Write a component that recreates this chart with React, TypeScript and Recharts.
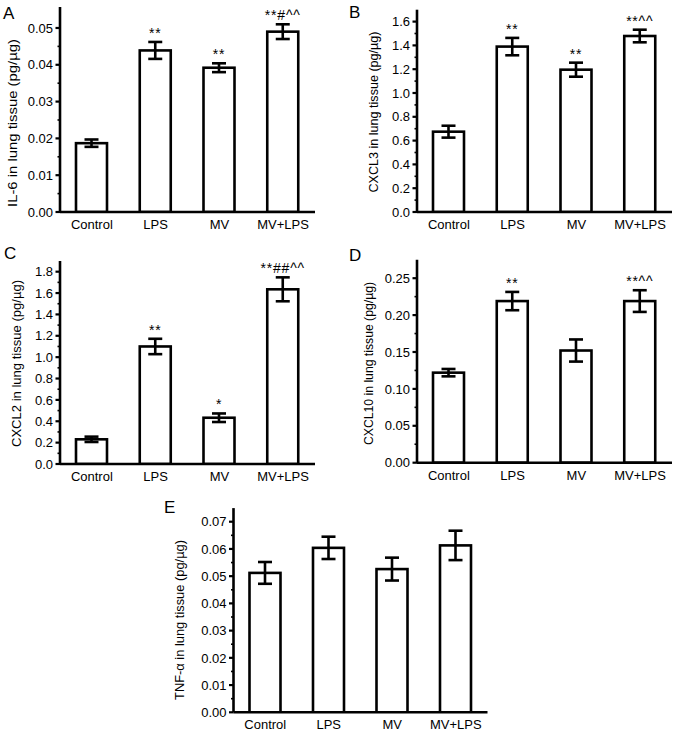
import React from 'react';
import { BarChart, Bar, XAxis, YAxis, ErrorBar } from 'recharts';

const FONT = '"Liberation Sans", Arial, Helvetica, sans-serif';

const categories = ['Control', 'LPS', 'MV', 'MV+LPS'];

const il6Values = [0.0187, 0.0439, 0.0392, 0.049];
const il6Errors = [0.001, 0.0023, 0.0012, 0.002];
const il6Marks = ['', '**', '**', '**#^^'];
const il6Ticks = [0, 0.01, 0.02, 0.03, 0.04, 0.05];

const cxcl3Values = [0.675, 1.39, 1.196, 1.479];
const cxcl3Errors = [0.05, 0.073, 0.059, 0.053];
const cxcl3Marks = ['', '**', '**', '**^^'];
const cxcl3Ticks = [0, 0.2, 0.4, 0.6, 0.8, 1.0, 1.2, 1.4, 1.6];

const cxcl2Values = [0.231, 1.1, 0.433, 1.635];
const cxcl2Errors = [0.025, 0.072, 0.04, 0.112];
const cxcl2Marks = ['', '**', '*', '**##^^'];
const cxcl2Ticks = [0, 0.2, 0.4, 0.6, 0.8, 1.0, 1.2, 1.4, 1.6, 1.8];

const cxcl10Values = [0.122, 0.219, 0.152, 0.219];
const cxcl10Errors = [0.005, 0.0124, 0.015, 0.0147];
const cxcl10Marks = ['', '**', '', '**^^'];
const cxcl10Ticks = [0, 0.05, 0.1, 0.15, 0.2, 0.25];

const tnfValues = [0.0512, 0.0604, 0.0526, 0.0613];
const tnfErrors = [0.004, 0.0041, 0.0042, 0.0054];
const tnfMarks = ['', '', '', ''];
const tnfTicks = [0, 0.01, 0.02, 0.03, 0.04, 0.05, 0.06, 0.07];

type PanelProps = {
  left: number;
  top: number;
  width: number;
  height: number;
  values: number[];
  errors: number[];
  marks: string[];
  ticks: number[];
  decimals: number;
  domainMax: number;
  marginTop: number;
  marginRight: number;
  yAxisWidth: number;
  ylabel: string;
  labelX: number;
  labelY: number;
  labelLen: number;
  letter: string;
  letterX: number;
  letterY: number;
};

function Panel(p: PanelProps) {
  const data = categories.map((c, i) => ({
    name: c,
    value: p.values[i],
    err: p.errors[i],
    mark: p.marks[i],
  }));
  const minors = p.ticks.slice(1).map((t, i) => (t + p.ticks[i]) / 2);
  const allTicks = [...p.ticks, ...minors].sort((a, b) => a - b);
  const isMajor = (v: number) => p.ticks.some((t) => Math.abs(t - v) < 1e-9);

  const YTick = (props: any) => {
    const { x, y, payload } = props;
    const v = Number(payload.value);
    if (isMajor(v)) {
      return (
        <g>
          <line x1={x - 4.5} x2={x} y1={y} y2={y} stroke="#000" strokeWidth={2.2} />
          <text
            x={x - 7}
            y={y}
            dy="0.36em"
            textAnchor="end"
            fontSize={13}
            fontFamily={FONT}
            fill="#000"
          >
            {v.toFixed(p.decimals)}
          </text>
        </g>
      );
    }
    return <line x1={x - 2.5} x2={x} y1={y} y2={y} stroke="#000" strokeWidth={1.6} />;
  };

  const XTick = (props: any) => {
    const { x, y, payload } = props;
    return (
      <text x={x} y={y + 17} textAnchor="middle" fontSize={13} fontFamily={FONT} fill="#000">
        {payload.value}
      </text>
    );
  };

  const BarShape = (props: any) => {
    const { x, y, width, height, payload } = props;
    const errPx = payload.value ? (height * payload.err) / payload.value : 0;
    return (
      <g>
        <rect x={x} y={y} width={width} height={height} fill="#fff" stroke="#000" strokeWidth={2.6} />
        {payload.mark ? (
          <text
            x={x + width / 2}
            y={y - errPx - 4}
            textAnchor="middle"
            fontSize={14}
            letterSpacing={0.8}
            fontFamily={FONT}
            fill="#000"
          >
            {payload.mark}
          </text>
        ) : null}
      </g>
    );
  };

  const LabelContent = () => (
    <g>
      <text
        x={p.labelX}
        y={p.labelY}
        transform={`rotate(-90, ${p.labelX}, ${p.labelY})`}
        textAnchor="middle"
        dominantBaseline="central"
        fontSize={12.5}
        fontFamily={FONT}
        fill="#000"
        textLength={p.labelLen}
        lengthAdjust="spacingAndGlyphs"
      >
        {p.ylabel}
      </text>
      <text x={p.letterX} y={p.letterY} fontSize={17} fontFamily={FONT} fill="#000">
        {p.letter}
      </text>
    </g>
  );

  return (
    <div style={{ position: 'absolute', left: p.left, top: p.top, width: p.width, height: p.height }}>
      <BarChart
        width={p.width}
        height={p.height}
        data={data}
        margin={{ top: p.marginTop, right: p.marginRight, bottom: 0, left: 0 }}
      >
        <XAxis
          dataKey="name"
          height={30}
          tickLine={false}
          tickSize={0}
          tickMargin={0}
          axisLine={{ stroke: '#000', strokeWidth: 2.6 }}
          tick={XTick}
          interval={0}
        />
        <YAxis
          type="number"
          width={p.yAxisWidth}
          domain={[0, p.domainMax]}
          allowDataOverflow
          ticks={allTicks}
          interval={0}
          tickLine={false}
          tickSize={0}
          tickMargin={0}
          axisLine={{ stroke: '#000', strokeWidth: 2.6 }}
          tick={YTick}
          label={{ content: LabelContent }}
        />
        <Bar dataKey="value" barSize={31} isAnimationActive={false} shape={BarShape}>
          <ErrorBar dataKey="err" width={7} strokeWidth={2.6} stroke="#000" direction="y" isAnimationActive={false} />
        </Bar>
      </BarChart>
    </div>
  );
}

export default function App() {
  return (
    <div
      style={{
        position: 'absolute',
        left: 0,
        top: 0,
        width: 677,
        height: 734,
        overflow: 'hidden',
        background: '#fff',
      }}
    >
      <Panel
        left={0}
        top={0}
        width={340}
        height={242}
        values={il6Values}
        errors={il6Errors}
        marks={il6Marks}
        ticks={il6Ticks}
        decimals={2}
        domainMax={0.0557}
        marginTop={7}
        marginRight={25}
        yAxisWidth={60}
        ylabel="IL-6 in lung tissue (pg/µg)"
        labelX={13}
        labelY={123}
        labelLen={168}
        letter="A"
        letterX={3}
        letterY={19}
      />
      <Panel
        left={337}
        top={0}
        width={340}
        height={242}
        values={cxcl3Values}
        errors={cxcl3Errors}
        marks={cxcl3Marks}
        ticks={cxcl3Ticks}
        decimals={1}
        domainMax={1.7}
        marginTop={9.7}
        marginRight={5}
        yAxisWidth={80}
        ylabel="CXCL3 in lung tissue (pg/µg)"
        labelX={37}
        labelY={112}
        labelLen={161}
        letter="B"
        letterX={12}
        letterY={18}
      />
      <Panel
        left={0}
        top={240}
        width={340}
        height={254}
        values={cxcl2Values}
        errors={cxcl2Errors}
        marks={cxcl2Marks}
        ticks={cxcl2Ticks}
        decimals={1}
        domainMax={1.9}
        marginTop={21}
        marginRight={25}
        yAxisWidth={60}
        ylabel="CXCL2 in lung tissue (pg/µg)"
        labelX={17}
        labelY={123.5}
        labelLen={167}
        letter="C"
        letterX={4}
        letterY={19}
      />
      <Panel
        left={337}
        top={240}
        width={340}
        height={252.7}
        values={cxcl10Values}
        errors={cxcl10Errors}
        marks={cxcl10Marks}
        ticks={cxcl10Ticks}
        decimals={2}
        domainMax={0.275}
        marginTop={19.75}
        marginRight={5}
        yAxisWidth={80}
        ylabel="CXCL10 in lung tissue (pg/µg)"
        labelX={32}
        labelY={123.5}
        labelLen={163}
        letter="D"
        letterX={12}
        letterY={21}
      />
      <Panel
        left={160}
        top={485}
        width={360}
        height={257.3}
        values={tnfValues}
        errors={tnfErrors}
        marks={tnfMarks}
        ticks={tnfTicks}
        decimals={2}
        domainMax={0.075}
        marginTop={23.1}
        marginRight={32.5}
        yAxisWidth={73.5}
        ylabel="TNF-α in lung tissue (pg/µg)"
        labelX={20}
        labelY={135}
        labelLen={160}
        letter="E"
        letterX={4}
        letterY={28}
      />
    </div>
  );
}
